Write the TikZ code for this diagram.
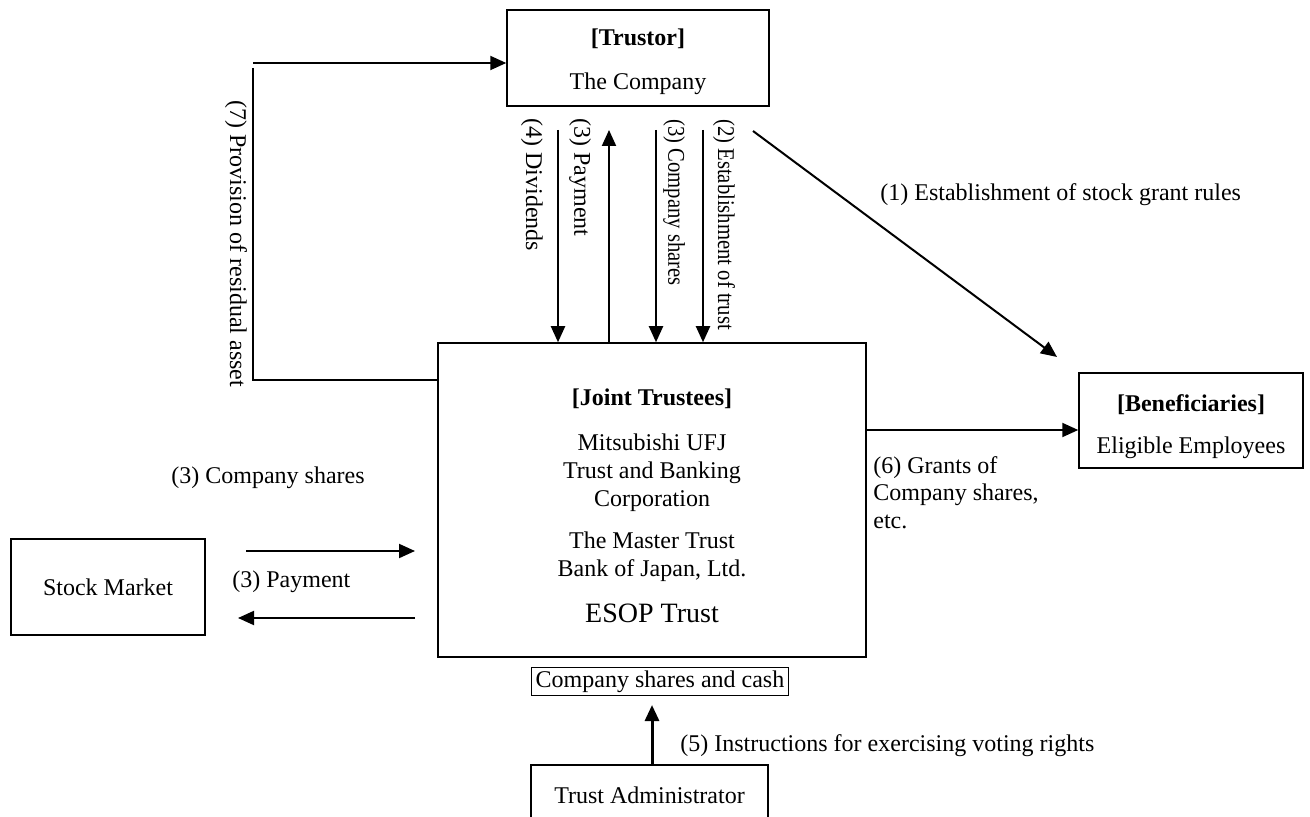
\documentclass[tikz,border=0pt]{standalone}
\usepackage{fontspec}
\setmainfont{Liberation Serif}
\usetikzlibrary{positioning, arrows.meta, calc}

\begin{document}
\begin{tikzpicture}[
    x=0.5pt, y=-0.5pt,
    box/.style={rectangle, draw=black, line width=0.75pt, fill=white, align=center, inner sep=0pt, font=\fontsize{12}{13.8}\selectfont},
    lbl/.style={inner sep=0pt, font=\fontsize{12}{13.8}\selectfont},
    vlbl/.style={lbl, rotate=-90, anchor=west},
    arrow/.style={-{Triangle[length=8pt,width=7pt]}, line width=1pt},
    line/.style={line width=1pt}
]
\useasboundingbox (0,0) rectangle (1310,817);

% Parties
\node[box, minimum width=131pt, minimum height=48pt] (trustor) at (638,58) {};
\node[lbl, align=center] (trustorTxt) at (638,61.5) {\textbf{[Trustor]}\\[8pt]The Company};
\node[box, minimum width=214pt, minimum height=157pt] (trust) at (652,500) {};
\node[lbl, align=center] (trustTxt) at (652,506) {\textbf{[Joint Trustees]}\\[9pt]Mitsubishi UFJ\\Trust and Banking\\Corporation\\[7.5pt]The Master Trust\\Bank of Japan, Ltd.\\[9.5pt]{\fontsize{14}{16}\selectfont ESOP Trust}};
\node[box, minimum width=112pt, minimum height=47.5pt] (benef) at (1191,420.5) {};
\node[lbl, align=center] (benefTxt) at (1191,426.5) {\textbf{[Beneficiaries]}\\[7.5pt]Eligible Employees};
\node[box, minimum width=97pt, minimum height=48pt] (market) at (108,587) {Stock Market};
\node[box, line width=0.5pt, inner xsep=2pt, inner ysep=1.5pt] (assets) at (660,681.5) {Company shares and cash};
\node[box, minimum width=118.5pt, minimum height=30pt] (admin) at (649.5,795) {Trust Administrator};

% Trustor <-> joint trustees
\coordinate (div) at (558,130);
\coordinate (pay) at (609,130);
\coordinate (shr) at (656,130);
\coordinate (est) at (703,130);
\draw[arrow] (div) -- (div |- trust.north);
\draw[arrow] (pay |- trust.north) -- (pay);
\draw[arrow] (shr) -- (shr |- trust.north);
\draw[arrow] (est) -- (est |- trust.north);
\node[vlbl] at (532,118) {(4) Dividends};
\node[vlbl] at (580,118) {(3) Payment};
\node[vlbl] at (674,119) {\scalebox{0.86}[1]{(3) Company shares}};
\node[vlbl] at (724,119) {\scalebox{0.86}[1]{(2) Establishment of trust}};

% Residual asset
\coordinate (rtop) at (253,63);
\coordinate (rvert) at (253,68);
\coordinate (rlow) at (253,380);
\draw[arrow] (rtop) -- (rtop -| trustor.west);
\draw[line] (rvert) -- (rlow) -- (rlow -| trust.west);
\node[vlbl] at (236,100) {(7) Provision of residual asset};

% Stock grant rules
\coordinate (rules) at (753,131);
\coordinate (rulesend) at (1057,357);
\draw[arrow] (rules) -- (rulesend);
\node[lbl, anchor=west] at (880,195) {(1) Establishment of stock grant rules};

% Grants
\coordinate (grant) at (866,430);
\draw[arrow] (grant) -- (grant -| benef.west);
\node[lbl, anchor=north west, align=left] at (873,456) {(6) Grants of\\Company shares,\\etc.};

% Stock market
\coordinate (buy) at (246,551);
\coordinate (sell) at (415,618);
\draw[arrow] (buy) -- (buy -| sell);
\draw[arrow] (sell) -- (238,618);
\node[lbl, anchor=west] at (171,478) {(3) Company shares};
\node[lbl, anchor=west] at (232,582) {(3) Payment};

% Voting rights
\coordinate (vote) at (652,705);
\draw[arrow, line width=1.5pt] (vote |- admin.north) -- (vote);
\node[lbl, anchor=west] at (680,746) {(5) Instructions for exercising voting rights};

\end{tikzpicture}
\end{document}
